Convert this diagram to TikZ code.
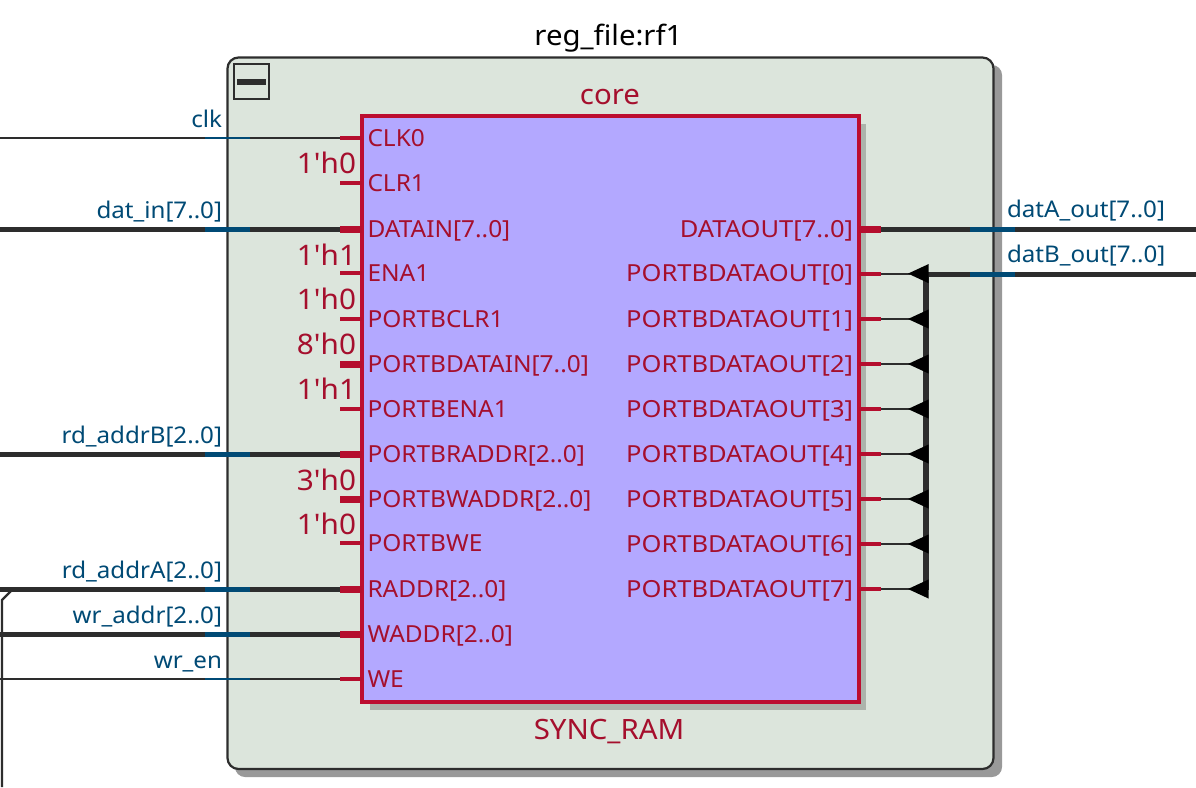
\documentclass[tikz,border=0pt]{standalone}
\usepackage{fontspec}
\setmainfont{Noto Sans}[FakeStretch=1.05,Ligatures=NoCommon]
\newfontfamily\straightf{Noto Sans}[FakeStretch=1.05,Ligatures=NoCommon]
\newfontfamily\widef{Noto Sans}[FakeStretch=1.085,Ligatures=NoCommon]
\newfontfamily\leftf{Noto Sans}[FakeStretch=1.04,Ligatures=NoCommon]
\definecolor{wirec}{HTML}{2D2D2D}
\definecolor{netc}{HTML}{004A75}
\definecolor{redc}{HTML}{B50E2E}
\definecolor{borderc}{HTML}{BC0D30}
\definecolor{txtred}{HTML}{A50F2D}
\definecolor{outerfill}{HTML}{DCE5DC}
\definecolor{outershadow}{HTML}{999999}
\definecolor{innershadow}{HTML}{ACB3AB}
\definecolor{corefill}{HTML}{B3A8FF}
\newcommand{\fs}[1]{\fontsize{#1}{#1}\selectfont}
\tikzset{
  x=1pt,y=-1pt,
  inner sep=0pt,outer sep=0pt,
  thinwire/.style={draw=wirec,line width=2.2pt},
  buswire/.style={draw=wirec,line width=5.2pt},
  thinnet/.style={draw=netc,line width=2.2pt},
  busnet/.style={draw=netc,line width=5.2pt},
  thinpin/.style={draw=redc,line width=4pt},
  buspin/.style={draw=redc,line width=7.5pt},
  pinl/.style={text=txtred,font=\leftf\fs{23.5},anchor=base west},
  pinr/.style={text=txtred,font=\widef\fs{23.5},anchor=base east},
  netl/.style={text=netc,font=\straightf\fs{23},anchor=base east},
  netr/.style={text=netc,font=\straightf\fs{23},anchor=base west},
  constl/.style={text=txtred,font=\straightf\fs{28.3},anchor=base east},
  tri/.style={fill=black,draw=none},
}
\begin{document}
\begin{tikzpicture}
\useasboundingbox (0,0) rectangle (1196,787);
\fill[white] (0,0) rectangle (1196,787);
% outer group
\fill[outershadow,rounded corners=10pt] (235,65) rectangle (1002,777);
\filldraw[fill=outerfill,draw=wirec,line width=2.2pt,rounded corners=11pt] (227.5,57.5) rectangle (993.5,769);
\node[draw=wirec,line width=2.2pt,minimum width=35pt,minimum height=35pt,anchor=north west] (collapse) at (234,64) {};
\fill[wirec] (237,79) rectangle (266,84.5);
\node[font=\straightf\fs{28},anchor=base] (title) at (608.5,45) {reg\_file:rf1};
% core
\fill[innershadow] (370,124) rectangle (866,710);
\node[draw=borderc,fill=corefill,line width=4pt,minimum width=497pt,minimum height=586pt,anchor=north west] (core) at (362,116) {};
\node[text=txtred,font=\straightf\fs{28},anchor=base] (coret) at (610,104) {core};
\node[text=txtred,font=\straightf\fs{28},anchor=base] (syncr) at (609,739) {SYNC\_RAM};
% left coordinates
\foreach \n/\y in {clk/137.8,din/229.3,rdb/454.3,rda/589.3,wra/634.3,wen/678.8}{
  \coordinate (L\n) at (0,\y);
  \coordinate (P\n) at (340,\y);
  \coordinate (Na\n) at (205,\y);
  \coordinate (Nb\n) at (250,\y);
}
\foreach \n in {clk,wen}{
  \draw[thinwire] (L\n) -- (P\n);
  \draw[thinnet] (Na\n) -- (Nb\n);
}
\foreach \n in {din,rdb,rda,wra}{
  \draw[buswire] (L\n) -- (P\n);
  \draw[busnet] (Na\n) -- (Nb\n);
}
% branch at left
\coordinate (Bj) at (13,589);
\coordinate (Bk) at (2,600);
\coordinate (Be) at (2,787);
\draw[draw=wirec,line width=2.2pt] (Bj) -- (Bk) -- (Be);
% net labels
\node[netl] (tclk) at (222,127) {clk};
\node[netl] (tdin) at (222,218) {dat\_in[7..0]};
\node[netl] (trdb) at (222,443) {rd\_addrB[2..0]};
\node[netl] (trda) at (222,578) {rd\_addrA[2..0]};
\node[netl] (twra) at (222,623) {wr\_addr[2..0]};
\node[netl] (twen) at (222,668) {wr\_en};
% input pins
\foreach \y/\t/\k in {138/CLK0/t,183/CLR1/t,229/DATAIN[7..0]/b,273/ENA1/t,319/PORTBCLR1/t,364/PORTBDATAIN[7..0]/b,409/PORTBENA1/t,454/PORTBRADDR[2..0]/b,499/PORTBWADDR[2..0]/b,543/PORTBWE/t,589/RADDR[2..0]/b,634/WADDR[2..0]/b,679/WE/t}{
  \coordinate (a) at (340,\y+.3);
  \coordinate (b) at (362,\y+.3);
  \if t\k \draw[thinpin] (a) -- (b); \else \draw[buspin] (a) -- (b); \fi
  \node[pinl] (lbl\y) at (367.5,\y+8) {\t};
}
% constants
\node[constl] (c1) at (356,173) {1'h0};
\node[constl] (c2) at (356,265) {1'h1};
\node[constl] (c3) at (356,309) {1'h0};
\node[constl] (c4) at (356,354) {8'h0};
\node[constl] (c5) at (356,399) {1'h1};
\node[constl] (c6) at (356,490) {3'h0};
\node[constl] (c7) at (356,534) {1'h0};
% outputs
\coordinate (Oa) at (881,229.3);
\coordinate (Oe) at (1196,229.3);
\draw[buswire] (Oa) -- (Oe);
\draw[busnet] (970,229.3) -- (1015,229.3);
\draw[buspin] (859,229.3) -- (881,229.3);
\node[pinr] (dout) at (853,237) {DATAOUT[7..0]};
\node[netr] (tda) at (1007,217) {datA\_out[7..0]};
\node[netr] (tdb) at (1007,262) {datB\_out[7..0]};
\coordinate (Btop) at (926,274.3);
\coordinate (Bbot) at (926,590);
\coordinate (Bout) at (1196,274.3);
\draw[buswire] (Bbot) -- (Btop) -- (Bout);
\draw[busnet] (970,274.3) -- (1015,274.3);
\foreach \i/\y in {0/273.6,1/319,2/364,3/409,4/454,5/499,6/544,7/589}{
  \coordinate (oa) at (859,\y);
  \coordinate (ob) at (881,\y);
  \coordinate (oc) at (910,\y);
  \draw[thinwire] (ob) -- (oc);
  \draw[thinpin] (oa) -- (ob);
  \fill[tri] (908,\y) -- (928.5,\y-9.5) -- (928.5,\y+9.5) -- cycle;
  \node[pinr] (dq\i) at (853,\y+8) {PORTBDATAOUT[\i]};
}
\end{tikzpicture}
\end{document}
